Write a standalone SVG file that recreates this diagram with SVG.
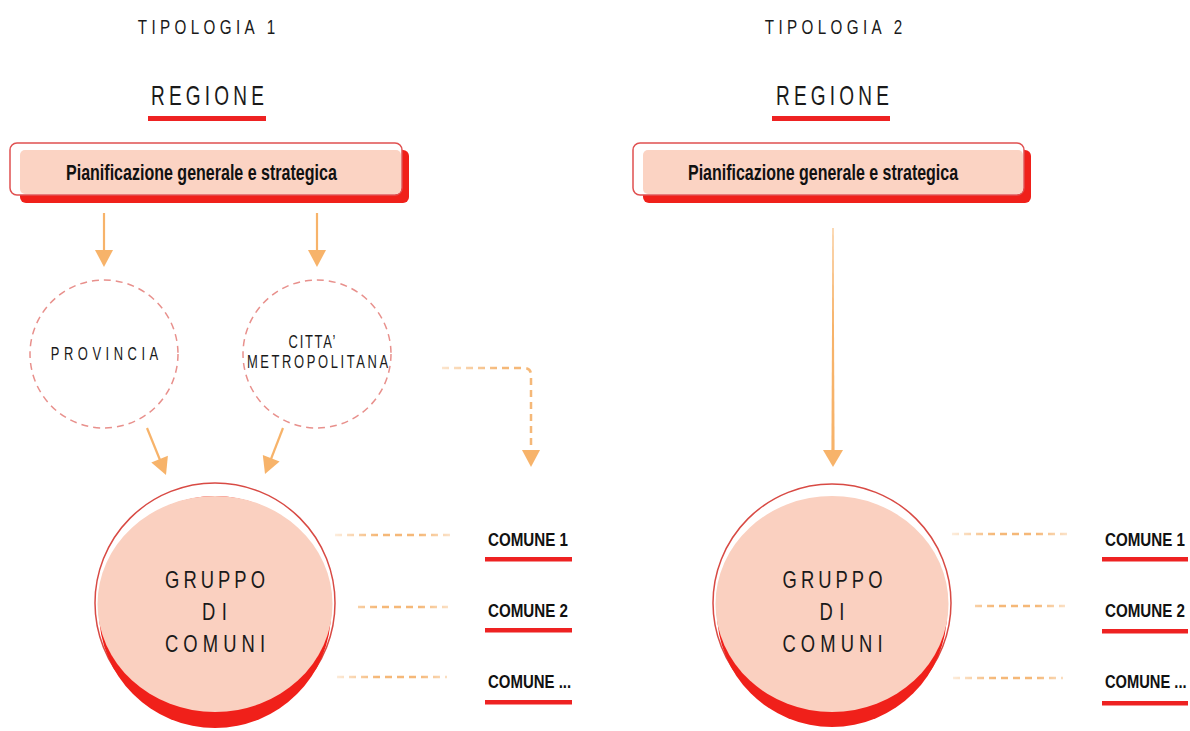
<svg xmlns="http://www.w3.org/2000/svg" width="1190" height="731" viewBox="0 0 1190 731">
<style>
.thin{font-family:"Liberation Sans",Arial,sans-serif;fill:#1a1a1a;text-anchor:middle;}
.bold{font-family:"Liberation Sans",Arial,sans-serif;font-weight:bold;fill:#111;}
.ul{fill:#ee2222;}
.arrow{fill:#f7b36a;}
.aline{stroke:#f7b36a;stroke-width:2.2;fill:none;}
.dcirc{fill:#fff;stroke:#e8908c;stroke-width:1.5;stroke-dasharray:7 5;}
.dash{stroke-width:2.5;stroke-dasharray:7 5;fill:none;}
.boxred{fill:#f0201a;}
.boxout{fill:#fff;stroke:#e05050;stroke-width:1.5;}
.boxpink{fill:#fbd3c3;}
.gout{fill:#fff;stroke:#d84a44;stroke-width:1.5;}
.gred{fill:#f0201a;}
.gpink{fill:#fad0c0;}
</style>
<defs>
<linearGradient id="fadeL" gradientUnits="userSpaceOnUse" x1="335" y1="0" x2="455" y2="0">
<stop offset="0" stop-color="#f5b878" stop-opacity="0.25"/>
<stop offset="0.35" stop-color="#f5b878" stop-opacity="1"/>
<stop offset="0.7" stop-color="#f5b878" stop-opacity="1"/>
<stop offset="1" stop-color="#f5b878" stop-opacity="0.3"/>
</linearGradient>
<linearGradient id="fadeR" gradientUnits="userSpaceOnUse" x1="952" y1="0" x2="1072" y2="0">
<stop offset="0" stop-color="#f5b878" stop-opacity="0.25"/>
<stop offset="0.35" stop-color="#f5b878" stop-opacity="1"/>
<stop offset="0.7" stop-color="#f5b878" stop-opacity="1"/>
<stop offset="1" stop-color="#f5b878" stop-opacity="0.3"/>
</linearGradient>
<linearGradient id="fadeE" gradientUnits="userSpaceOnUse" x1="440" y1="0" x2="500" y2="0">
<stop offset="0" stop-color="#f5b878" stop-opacity="0.35"/>
<stop offset="1" stop-color="#f5b878" stop-opacity="1"/>
</linearGradient>
</defs>

<rect width="1190" height="731" fill="#fff"/>

<g id="title1">
<text class="thin" transform="translate(206.5,34) scale(0.78,1)" font-size="19.5" textLength="176" lengthAdjust="spacing">TIPOLOGIA 1</text>
</g>
<g id="title2">
<text class="thin" transform="translate(833.5,34) scale(0.78,1)" font-size="19.5" textLength="176" lengthAdjust="spacing">TIPOLOGIA 2</text>
</g>

<g id="regione1">
<text class="thin" transform="translate(207.5,105) scale(0.68,1)" font-size="28" textLength="166" lengthAdjust="spacing">REGIONE</text>
<rect class="ul" x="148" y="116" width="118" height="5"/>
</g>
<g id="regione2">
<text class="thin" transform="translate(832.5,105) scale(0.68,1)" font-size="28" textLength="166" lengthAdjust="spacing">REGIONE</text>
<rect class="ul" x="772" y="116" width="118" height="5"/>
</g>

<g id="pianificazione1">
<rect class="boxred" x="20" y="150" width="389" height="53" rx="6"/>
<rect class="boxout" x="10" y="143" width="392" height="52" rx="7"/>
<rect class="boxpink" x="20" y="150" width="381" height="44" rx="5"/>
<text class="bold" transform="translate(66,180) scale(0.74,1)" font-size="22.5" textLength="366" lengthAdjust="spacingAndGlyphs">Pianificazione generale e strategica</text>
</g>
<g id="pianificazione2">
<rect class="boxred" x="643" y="150" width="388" height="53" rx="6"/>
<rect class="boxout" x="633" y="143" width="391" height="52" rx="7"/>
<rect class="boxpink" x="643" y="150" width="380" height="44" rx="5"/>
<text class="bold" transform="translate(688,180) scale(0.74,1)" font-size="22.5" textLength="365" lengthAdjust="spacingAndGlyphs">Pianificazione generale e strategica</text>
</g>

<g id="provincia">
<circle class="dcirc" cx="104" cy="354" r="74"/>
<text class="thin" transform="translate(104.5,360) scale(0.72,1)" font-size="18" textLength="149" lengthAdjust="spacing">PROVINCIA</text>
</g>
<g id="citta-metropolitana">
<circle class="dcirc" cx="317" cy="354" r="74"/>
<text class="thin" transform="translate(312,348) scale(0.72,1)" font-size="18" textLength="65" lengthAdjust="spacing">CITTA’</text>
<text class="thin" transform="translate(317.5,368) scale(0.72,1)" font-size="18" textLength="196" lengthAdjust="spacing">METROPOLITANA</text>
</g>

<g id="gruppo1">
<circle class="gout" cx="215" cy="603" r="120"/>
<circle class="gred" cx="215" cy="612" r="116"/>
<ellipse class="gpink" cx="215" cy="604" rx="117.5" ry="108"/>
<text class="thin" transform="translate(215,588) scale(0.8,1)" font-size="23" textLength="125" lengthAdjust="spacing">GRUPPO</text>
<text class="thin" transform="translate(214.5,620) scale(0.8,1)" font-size="23" textLength="31" lengthAdjust="spacing">DI</text>
<text class="thin" transform="translate(215,652) scale(0.8,1)" font-size="23" textLength="125" lengthAdjust="spacing">COMUNI</text>
</g>
<g id="gruppo2">
<circle class="gout" cx="832" cy="603" r="119"/>
<circle class="gred" cx="832" cy="612" r="115"/>
<ellipse class="gpink" cx="832" cy="604" rx="116.5" ry="108"/>
<text class="thin" transform="translate(832.5,588) scale(0.8,1)" font-size="23" textLength="125" lengthAdjust="spacing">GRUPPO</text>
<text class="thin" transform="translate(832,620) scale(0.8,1)" font-size="23" textLength="31" lengthAdjust="spacing">DI</text>
<text class="thin" transform="translate(832.5,652) scale(0.8,1)" font-size="23" textLength="125" lengthAdjust="spacing">COMUNI</text>
</g>

<g id="comune1-t1">
<text class="bold" transform="translate(488,546) scale(0.8,1)" font-size="19" textLength="100" lengthAdjust="spacingAndGlyphs">COMUNE 1</text>
<rect class="ul" x="485" y="557" width="87" height="4.5"/>
</g>
<g id="comune2-t1">
<text class="bold" transform="translate(488,617) scale(0.8,1)" font-size="19" textLength="100" lengthAdjust="spacingAndGlyphs">COMUNE 2</text>
<rect class="ul" x="485" y="628" width="87" height="4.5"/>
</g>
<g id="comune3-t1">
<text class="bold" transform="translate(488,688) scale(0.8,1)" font-size="19" textLength="104" lengthAdjust="spacingAndGlyphs">COMUNE ...</text>
<rect class="ul" x="485" y="700" width="87" height="4.5"/>
</g>
<g id="comune1-t2">
<text class="bold" transform="translate(1105,546) scale(0.8,1)" font-size="19" textLength="100" lengthAdjust="spacingAndGlyphs">COMUNE 1</text>
<rect class="ul" x="1102" y="557" width="86" height="4.5"/>
</g>
<g id="comune2-t2">
<text class="bold" transform="translate(1105,617) scale(0.8,1)" font-size="19" textLength="100" lengthAdjust="spacingAndGlyphs">COMUNE 2</text>
<rect class="ul" x="1102" y="629" width="86" height="4.5"/>
</g>
<g id="comune3-t2">
<text class="bold" transform="translate(1105,688) scale(0.8,1)" font-size="19" textLength="102" lengthAdjust="spacingAndGlyphs">COMUNE ...</text>
<rect class="ul" x="1102" y="701" width="86" height="4.5"/>
</g>

<g id="connectors">
<line class="aline" x1="104" y1="213" x2="104" y2="252"/>
<polygon class="arrow" points="95,250 113,250 104,267"/>
<line class="aline" x1="317" y1="213" x2="317" y2="252"/>
<polygon class="arrow" points="308,250 326,250 317,267"/>
<line class="aline" x1="147" y1="428" x2="160" y2="460"/>
<polygon class="arrow" points="167.9,455.8 151.3,462.6 166,475"/>
<line class="aline" x1="283" y1="428" x2="271" y2="459"/>
<polygon class="arrow" points="279.6,461.5 262.8,454.9 265,474"/>
<path class="dash" stroke="url(#fadeE)" d="M442,368 H524 Q531,368 531,375 V452"/>
<polygon class="arrow" points="522,450 540,450 531,467"/>
<polygon class="arrow" points="832.5,228 833.5,228 834.6,452 831.4,452"/>
<polygon class="arrow" points="823,450 843,450 833,467"/>
<line class="dash" stroke="url(#fadeL)" x1="335" y1="535" x2="453" y2="535"/>
<line class="dash" stroke="url(#fadeL)" x1="358" y1="607" x2="448" y2="607"/>
<line class="dash" stroke="url(#fadeL)" x1="337" y1="677" x2="447" y2="677"/>
<line class="dash" stroke="url(#fadeR)" x1="952" y1="534" x2="1072" y2="534"/>
<line class="dash" stroke="url(#fadeR)" x1="975" y1="606" x2="1065" y2="606"/>
<line class="dash" stroke="url(#fadeR)" x1="953" y1="678" x2="1063" y2="678"/>
</g>
</svg>
